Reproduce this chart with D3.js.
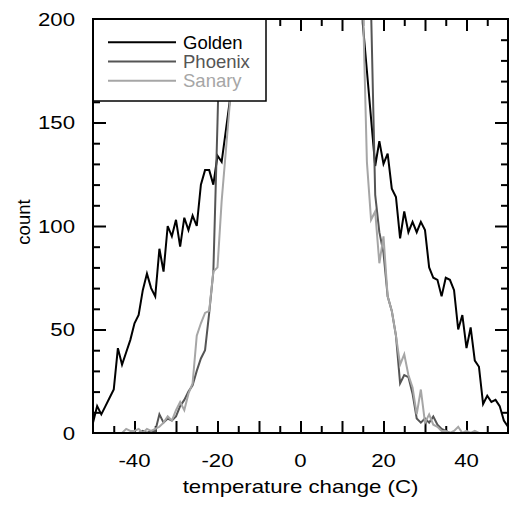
<!DOCTYPE html>
<html>
<head>
<meta charset="utf-8">
<script src="https://cdn.jsdelivr.net/npm/d3@7/dist/d3.min.js"></script>
<style>
    body { margin: 0; background: #fff; }
    svg { display: block; }
</style>
</head>
<body>
<div id="chart"></div>
<script>

// temperature bins, 1 C wide
var temps = d3.range(-50, 51)

// counts per bin, null where the curve is off the top of the plot
var golden = [
    5, 13, 9, 13, 17, 21, 41, 33, 39, 45,                 // -50..-41
    53, 57, 69, 77, 70, 66, 89, 78, 100, 95,              // -40..-31
    103, 90, 104, 98, 105, 100, 120, 127, 127, 120,       // -30..-21
    134, 131, 146, 161, 230, null, null, null, null, null,// -20..-11
    null, null, null, null, null, null, null, null, null, null,
    null, null, null, null, null, null, null, null, null, null,
    null, null, null, null, 300, 198, 175, 152, 129, 141, // 10..19
    130, 135, 118, 114, 94, 107, 97, 102, 97, 102,        // 20..29
    98, 80, 75, 74, 66, 75, 74, 69, 50, 57,               // 30..39
    41, 51, 35, 32, 14, 18, 15, 16, 13, 6,                // 40..49
    3
]

var phoenix = [
    null, null, null, null, null, null, null, null, null, null,
    0, 0, 1, 0, 1, 1, 9, 5, 7, 6,
    8, 13, 16, 20, 23, 30, 36, 40, 58, 78,
    150, 230, null, null, null, null, null, null, null, null,
    null, null, null, null, null, null, null, null, null, null,
    null, null, null, null, null, null, null, null, null, null,
    null, null, null, null, null, null, 400, 205, 115, 97,
    87, 66, 59, 47, 24, 28, 27, 19, 7, 5,
    7, 5, 8, 4, 2, 1, 0, 0, 0, 0,
    0, 0, 0, 0, 0, 0, null, null, null, null,
    null
]

var sanary = [
    null, null, null, null, null, null, null, 0, 2, 1,
    1, 2, 0, 2, 1, 2, 3, 5, 8, 6,
    11, 15, 11, 19, 24, 47, 53, 58, 59, 78,
    80, 112, 136, 160, 230, null, null, null, null, null,
    null, null, null, null, null, null, null, null, null, null,
    null, null, null, null, null, null, null, null, null, null,
    null, null, null, null, 300, 210, 131, 103, 107, 82,
    95, 66, 59, 47, 33, 38, 28, 22, 9, 21,
    5, 9, 4, 3, 1, 1, 0, 1, 3, 0,
    1, 0, 1, 0, 0, 0, null, null, null, null,
    null
]

var seriesNames = ['Golden', 'Phoenix', 'Sanary']
var seriesColors = ['#000000', '#555555', '#a6a6a6']

var xMajorTicks = [-40, -30, -20, -10, 0, 10, 20, 30, 40]
var xMinorTicks = [-45, -35, -25, -15, -5, 5, 15, 25, 35, 45]
var xTickLabels = [-40, -20, 0, 20, 40]
var yMajorTicks = [50, 100, 150]
var yMinorTicks = [10, 20, 30, 40, 60, 70, 80, 90, 110, 120, 130, 140, 160, 170, 180, 190]
var yTickLabels = [0, 50, 100, 150, 200]

var width = 511,
    height = 506,
    margin = {top: 19, right: 3, bottom: 73, left: 93},
    innerWidth = width - margin.left - margin.right,
    innerHeight = height - margin.top - margin.bottom,
    font = "'Liberation Sans', Arial, Helvetica, sans-serif",
    stretch = 1.2

var xScale = d3.scaleLinear().domain([-50, 50]).range([0, innerWidth])
var yScale = d3.scaleLinear().domain([0, 200]).range([innerHeight, 0])

var svg = d3.select('#chart')
    .append('svg')
    .attr('width', width)
    .attr('height', height)
    .attr('font-family', font)
    .append('g')
    .attr('transform', `translate(${margin.left},${margin.top})`)

svg.append('clipPath')
    .attr('id', 'plot-clip')
    .append('rect')
    .attr('width', innerWidth)
    .attr('height', innerHeight)

// inward ticks on all four sides
function ticks(axis, values, size, transform) {
    svg.append('g')
        .attr('transform', transform)
        .call(axis.tickValues(values).tickSize(-size).tickFormat(''))
        .call(g => g.select('.domain').remove())
        .call(g => g.selectAll('line').attr('stroke', '#000').attr('stroke-width', 2))
}

// axis labels in the original are a bit wider than the font
function widen(sel) {
    sel.each(function() {
        var w = this.getComputedTextLength()
        d3.select(this)
            .attr('textLength', w * stretch)
            .attr('lengthAdjust', 'spacingAndGlyphs')
    })
}

ticks(d3.axisBottom(xScale), xMinorTicks, 7, `translate(0,${innerHeight})`)
ticks(d3.axisBottom(xScale), xMajorTicks, 12, `translate(0,${innerHeight})`)
ticks(d3.axisTop(xScale), xMinorTicks, 7, 'translate(0,0)')
ticks(d3.axisTop(xScale), xMajorTicks, 12, 'translate(0,0)')
ticks(d3.axisLeft(yScale), yMinorTicks, 7, 'translate(0,0)')
ticks(d3.axisLeft(yScale), yMajorTicks, 13, 'translate(0,0)')
ticks(d3.axisRight(yScale), yMinorTicks, 7, `translate(${innerWidth},0)`)
ticks(d3.axisRight(yScale), yMajorTicks, 13, `translate(${innerWidth},0)`)

var line = d3.line()
    .defined(d => d[1] !== null)
    .x(d => xScale(d[0]))
    .y(d => yScale(d[1]))

var plot = svg.append('g').attr('clip-path', 'url(#plot-clip)')

;[golden, phoenix, sanary].forEach(function(values, k) {
    plot.append('path')
        .datum(temps.map((t, i) => [t, values[i]]))
        .attr('fill', 'none')
        .attr('stroke', seriesColors[k])
        .attr('stroke-width', 2)
        .attr('d', line)
})

// legend
var legend = svg.append('g')

legend.append('rect')
    .attr('x', 0)
    .attr('y', 0)
    .attr('width', 173)
    .attr('height', 82)
    .attr('fill', '#fff')
    .attr('stroke', '#000')
    .attr('stroke-width', 1.5)

seriesNames.forEach(function(name, k) {
    var ly = 23.3 + k * 19.2
    legend.append('line')
        .attr('x1', 15)
        .attr('x2', 83)
        .attr('y1', ly)
        .attr('y2', ly)
        .attr('stroke', seriesColors[k])
        .attr('stroke-width', 2)
    legend.append('text')
        .attr('x', 90)
        .attr('y', ly + 6.6)
        .attr('font-size', '18.5px')
        .attr('fill', seriesColors[k])
        .text(name)
})

// frame
svg.append('rect')
    .attr('width', innerWidth)
    .attr('height', innerHeight)
    .attr('fill', 'none')
    .attr('stroke', '#000')
    .attr('stroke-width', 2)

// tick labels
svg.append('g')
    .selectAll('text')
    .data(xTickLabels)
    .join('text')
    .attr('x', d => xScale(d))
    .attr('y', innerHeight + 33.7)
    .attr('text-anchor', 'middle')
    .attr('font-size', '18.5px')
    .text(d => d)
    .call(widen)

svg.append('g')
    .selectAll('text')
    .data(yTickLabels)
    .join('text')
    .attr('x', -18)
    .attr('y', d => yScale(d))
    .attr('text-anchor', 'end')
    .attr('dy', '0.36em')
    .attr('font-size', '18.5px')
    .text(d => d)
    .call(widen)

// axis titles
svg.append('text')
    .attr('x', innerWidth / 2)
    .attr('y', innerHeight + 59.7)
    .attr('text-anchor', 'middle')
    .attr('font-size', '18.5px')
    .text('temperature change (C)')
    .call(widen)

svg.append('text')
    .attr('transform', `translate(-63,203) rotate(-90)`)
    .attr('text-anchor', 'middle')
    .attr('font-size', '18.5px')
    .text('count')

</script>
</body>
</html>
